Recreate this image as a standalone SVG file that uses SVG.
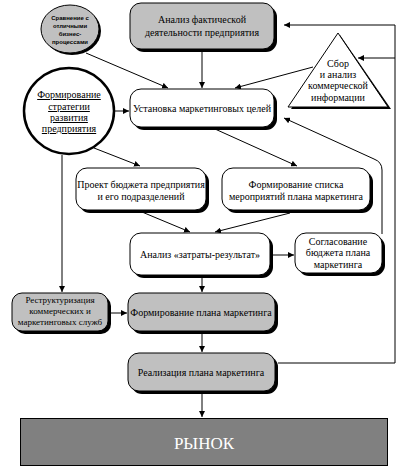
<svg xmlns="http://www.w3.org/2000/svg" width="408" height="471" viewBox="0 0 408 471">
<defs>
<marker id="arr" viewBox="0 0 10 10" refX="10" refY="5" markerWidth="6" markerHeight="6" orient="auto" markerUnits="userSpaceOnUse">
<path d="M0,0 L10,5 L0,10 z" fill="#000"/>
</marker>
<style>
.t{font-family:"Liberation Serif","Times New Roman",serif;font-size:10px;fill:#000;text-anchor:middle}
.t9{font-size:9px}
.ts{font-family:"Liberation Sans",Arial,sans-serif;font-size:6px;font-weight:bold;fill:#000;text-anchor:middle}
.sh{fill:#000}
.w{fill:#fff;stroke:#000;stroke-width:1}
.g{fill:#c0c0c0;stroke:#000;stroke-width:1}
.c{fill:none;stroke:#000;stroke-width:1}
</style>
</defs>
<rect width="408" height="471" fill="#fff"/>
<g id="connectors">
<path class="c" d="M86,53 L168,88" marker-end="url(#arr)"/>
<path class="c" d="M202,52 L202,88" marker-end="url(#arr)"/>
<path class="c" d="M313,67 L235,88" marker-end="url(#arr)"/>
<path class="c" d="M115,111 L129,111" marker-end="url(#arr)"/>
<path class="c" d="M94,148 L140,166" marker-end="url(#arr)"/>
<path class="c" d="M215,129 L297,166" marker-end="url(#arr)"/>
<path class="c" d="M62,155 L62,292" marker-end="url(#arr)"/>
<path class="c" d="M142,212 L190,232" marker-end="url(#arr)"/>
<path class="c" d="M290,213 L215,232" marker-end="url(#arr)"/>
<path class="c" d="M273,255 L294,255" marker-end="url(#arr)"/>
<path class="c" d="M382,234 L382,170 Q382,162 374,159 L284,118" marker-end="url(#arr)"/>
<path class="c" d="M202,278 L202,292" marker-end="url(#arr)"/>
<path class="c" d="M111,313 L127,313" marker-end="url(#arr)"/>
<path class="c" d="M202,334 L202,352" marker-end="url(#arr)"/>
<path class="c" d="M202,394 L202,417" marker-end="url(#arr)"/>
<path class="c" d="M278,363 L395,363 L395,25 L284,25" marker-end="url(#arr)"/>
<path class="c" d="M395,58 L358,58" marker-end="url(#arr)"/>
</g>
<g id="n-benchmark">
<ellipse cx="72" cy="31" rx="29" ry="24" class="sh"/>
<ellipse cx="70" cy="29" rx="29" ry="24" class="g"/>
<text class="ts" x="70" y="20">Сравнение с</text>
<text class="ts" x="70" y="28">отличными</text>
<text class="ts" x="70" y="36">бизнес-</text>
<text class="ts" x="70" y="44">процессами</text>
</g>
<g id="n-strategy">
<ellipse cx="69" cy="111" rx="45" ry="43" fill="#fff" stroke="#000" stroke-width="2.5"/>
<text class="t" x="69" y="98" text-decoration="underline">Формирование</text>
<text class="t" x="69" y="110" text-decoration="underline">стратегии</text>
<text class="t" x="69" y="121" text-decoration="underline">развития</text>
<text class="t" x="69" y="132" text-decoration="underline">предприятия</text>
</g>
<g id="n-analysis">
<rect x="133" y="6" width="144" height="46" rx="11" class="sh"/>
<rect x="130" y="3" width="144" height="46" rx="11" class="g"/>
<text class="t" x="202" y="23">Анализ фактической</text>
<text class="t" x="202" y="36">деятельности предприятия</text>
</g>
<g id="n-info">
<polygon points="340,35 291,109 391,109" class="sh"/>
<polygon points="338,33 288,107 388,107" class="w"/>
<text class="t" x="338" y="67">Сбор</text>
<text class="t" x="338" y="78">и анализ</text>
<text class="t" x="338" y="89">коммерческой</text>
<text class="t" x="338" y="101">информации</text>
</g>
<g id="n-goals">
<rect x="133" y="92" width="144" height="38" rx="11" class="sh"/>
<rect x="130" y="89" width="144" height="38" rx="11" class="w"/>
<text class="t" x="202" y="112">Установка маркетинговых целей</text>
</g>
<g id="n-budget">
<rect x="79" y="171" width="130" height="42" rx="11" class="sh"/>
<rect x="76" y="168" width="130" height="42" rx="11" class="w"/>
<text class="t" x="141" y="188">Проект бюджета предприятия</text>
<text class="t" x="141" y="200">и его подразделений</text>
</g>
<g id="n-list">
<rect x="225" y="171" width="148" height="42" rx="11" class="sh"/>
<rect x="222" y="168" width="148" height="42" rx="11" class="w"/>
<text class="t" x="296" y="188">Формирование списка</text>
<text class="t" x="296" y="200">мероприятий плана маркетинга</text>
</g>
<g id="n-costs">
<rect x="133" y="236" width="140" height="42" rx="11" class="sh"/>
<rect x="130" y="233" width="140" height="42" rx="11" class="w"/>
<text class="t" x="200" y="258">Анализ «затраты-результат»</text>
</g>
<g id="n-agree">
<rect x="298" y="236" width="87" height="40" rx="11" class="sh"/>
<rect x="295" y="233" width="87" height="40" rx="11" class="w"/>
<text class="t" x="338" y="245">Согласование</text>
<text class="t" x="338" y="256">бюджета плана</text>
<text class="t" x="338" y="268">маркетинга</text>
</g>
<g id="n-restruct">
<rect x="15" y="296" width="96" height="38" rx="10" class="sh"/>
<rect x="12" y="293" width="96" height="38" rx="10" class="g"/>
<text class="t t9" x="60" y="303">Реструктуризация</text>
<text class="t t9" x="60" y="314">коммерческих и</text>
<text class="t t9" x="60" y="325">маркетинговых служб</text>
</g>
<g id="n-plan">
<rect x="131" y="296" width="147" height="38" rx="11" class="sh"/>
<rect x="128" y="293" width="147" height="38" rx="11" class="g"/>
<text class="t" x="201" y="316">Формирование плана маркетинга</text>
</g>
<g id="n-impl">
<rect x="131" y="356" width="147" height="38" rx="11" class="sh"/>
<rect x="128" y="353" width="147" height="38" rx="11" class="g"/>
<text class="t" x="201" y="376">Реализация плана маркетинга</text>
</g>
<g id="n-market">
<rect x="20.5" y="418.5" width="367" height="47" fill="#808080" stroke="#000" stroke-width="1"/>
<text x="204" y="449" font-family="'Liberation Serif','Times New Roman',serif" font-size="17" fill="#fff" text-anchor="middle">РЫНОК</text>
</g>
</svg>
